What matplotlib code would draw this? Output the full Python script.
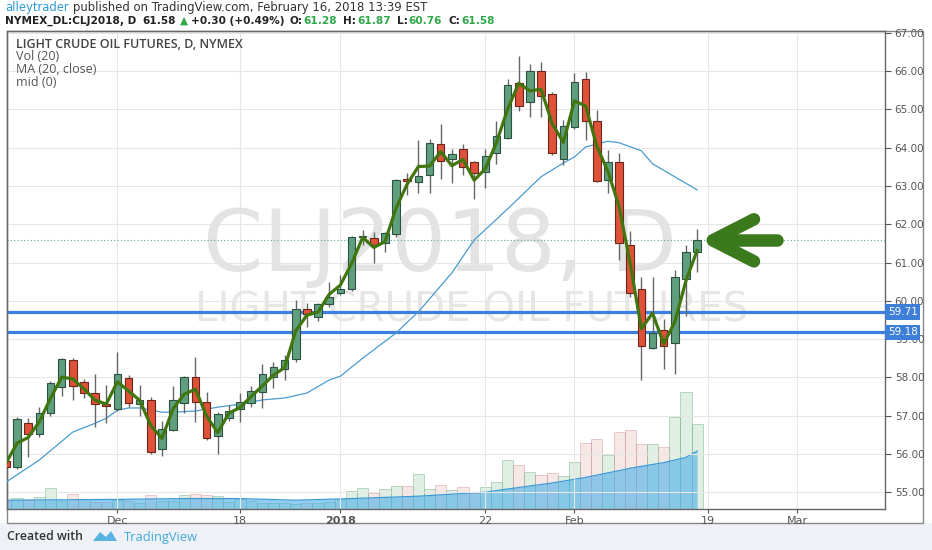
import matplotlib
matplotlib.use("Agg")
import matplotlib.pyplot as plt
import numpy as np
from matplotlib.patches import Rectangle, Polygon
import matplotlib.transforms as mtransforms

# ---------------- data ----------------
dates = ["Nov16", "Nov17", "Nov20", "Nov21", "Nov22", "Nov24", "Nov27", "Nov28", "Nov29", "Nov30",
         "Dec1", "Dec4", "Dec5", "Dec6", "Dec7", "Dec8", "Dec11", "Dec12", "Dec13", "Dec14",
         "Dec15", "Dec18", "Dec19", "Dec20", "Dec21", "Dec22", "Dec26", "Dec27", "Dec28", "Dec29",
         "Jan2", "Jan3", "Jan4", "Jan5", "Jan8", "Jan9", "Jan10", "Jan11", "Jan12", "Jan16",
         "Jan17", "Jan18", "Jan19", "Jan22", "Jan23", "Jan24", "Jan25", "Jan26", "Jan29", "Jan30",
         "Jan31", "Feb1", "Feb2", "Feb5", "Feb6", "Feb7", "Feb8", "Feb9", "Feb12", "Feb13",
         "Feb14", "Feb15", "Feb16"]
opens = [55.81, 55.66, 56.81, 56.51, 57.06, 57.74, 58.46, 57.87, 57.58, 57.30,
         57.17, 57.99, 57.30, 57.42, 56.14, 56.62, 57.33, 58.01, 57.36, 56.47,
         56.95, 57.16, 57.32, 57.62, 58.01, 58.21, 58.48, 59.78, 59.57, 59.91,
         60.21, 60.31, 61.66, 61.63, 61.50, 61.74, 63.17, 63.11, 63.29, 64.09,
         63.70, 63.97, 63.62, 63.37, 63.85, 64.25, 65.68, 65.19, 66.01, 65.40,
         63.71, 64.54, 65.80, 64.70, 63.16, 63.63, 61.46, 60.30, 58.77, 59.24,
         58.89, 60.56, 61.28]
highs = [55.95, 56.96, 56.95, 57.23, 57.90, 58.50, 58.50, 57.95, 58.10, 57.80,
         58.65, 58.06, 57.80, 57.49, 56.86, 57.77, 58.04, 58.54, 57.62, 57.10,
         57.27, 57.58, 57.77, 58.36, 58.41, 58.58, 60.02, 59.93, 59.93, 60.50,
         60.67, 61.69, 61.85, 61.81, 61.81, 63.18, 63.35, 64.21, 64.22, 64.62,
         63.97, 64.10, 63.65, 63.96, 64.70, 65.79, 66.40, 66.18, 66.25, 65.45,
         64.73, 65.95, 65.98, 64.99, 63.94, 63.86, 61.83, 60.61, 60.61, 59.52,
         60.80, 61.46, 61.87]
lows = [55.55, 55.60, 55.91, 56.45, 57.00, 57.51, 57.42, 57.45, 56.71, 56.80,
        57.12, 57.23, 57.00, 55.99, 55.95, 56.60, 57.08, 56.84, 56.36, 56.01,
        56.86, 56.84, 57.23, 57.19, 57.71, 57.93, 58.41, 59.32, 59.48, 59.84,
        60.15, 60.25, 61.46, 60.98, 61.28, 61.67, 62.76, 62.81, 62.82, 63.18,
        63.09, 63.29, 62.65, 62.94, 63.57, 64.22, 64.97, 64.79, 64.81, 63.81,
        63.55, 64.50, 64.20, 63.10, 62.82, 61.07, 60.11, 57.93, 58.75, 58.23,
        58.10, 59.60, 60.76]
closes = [55.65, 56.91, 56.53, 57.08, 57.84, 58.48, 57.78, 57.60, 57.30, 57.25,
          58.10, 57.32, 57.41, 56.04, 56.64, 57.42, 58.01, 57.36, 56.42, 57.04,
          57.12, 57.36, 57.64, 58.08, 58.28, 58.45, 59.78, 59.65, 59.91, 60.09,
          60.31, 61.66, 61.70, 61.46, 61.76, 63.16, 63.13, 63.27, 64.13, 63.65,
          63.83, 63.50, 63.33, 63.79, 64.31, 65.64, 65.10, 66.01, 65.36, 63.85,
          64.57, 65.72, 64.70, 63.13, 63.63, 61.50, 60.21, 58.82, 59.15, 58.82,
          60.61, 61.28, 61.58]
volumes = [20, 28, 22, 30, 52, 20, 38, 25, 18, 18,
           22, 20, 15, 35, 20, 20, 35, 38, 35, 32,
           18, 25, 20, 15, 15, 15, 12, 15, 15, 18,
           25, 45, 52, 40, 50, 58, 58, 88, 50, 60,
           48, 55, 40, 55, 68, 122, 110, 92, 85, 90,
           82, 118, 165, 175, 135, 192, 198, 162, 162, 155,
           230, 292, 212]  # thousands of contracts

# MA(20, close) at these bar indices
ma_idx = [0, 3, 6, 8, 9, 10, 11, 12, 14, 15, 17, 19, 21, 23, 25, 27, 29, 30, 32, 35, 36, 37,
          40, 42, 45, 48, 50, 51, 52, 54, 55, 57, 58, 60, 62]
ma_val = [55.26, 55.84, 56.57, 56.80, 56.93, 57.14, 57.20, 57.20, 57.09, 57.09, 57.12, 57.22,
          57.30, 57.41, 57.46, 57.59, 57.93, 58.03, 58.50, 59.16, 59.44, 59.71,
          60.73, 61.59, 62.40, 63.24, 63.60, 63.76, 64.02, 64.17, 64.13, 63.92, 63.58, 63.24, 62.90]

# Volume MA(20)
vma_idx = [0, 10, 16, 21, 26, 31, 37, 43, 45, 49, 52, 55, 56, 59, 61, 62]
vma_val = [22, 24, 26, 26, 22, 26, 32, 42, 50, 65, 79, 96, 102, 116, 129, 145]

levels = [59.71, 59.18]
xtick_idx = [10, 21, 30, 43, 51, 63, 71]
xtick_labels = ["Dec", "18", "2018", "22", "Feb", "19", "Mar"]
ytick_vals = list(range(55, 68))

# ---------------- figure ----------------
W, H = 932, 550
fig = plt.figure(figsize=(W / 100, H / 100), dpi=100)
fig.patch.set_facecolor("white")

# footer band
fig.add_artist(Rectangle((0, 0), 1, 27 / H, transform=fig.transFigure,
                         fc="#eef1f5", ec="none", zorder=0))

ax = fig.add_axes([7 / W, 41 / H, 878 / W, 478 / H])
ax2 = ax.twinx()
ax.set_zorder(ax2.get_zorder() + 1)
ax.patch.set_visible(False)
ax2.patch.set_facecolor("white")

x = np.arange(len(closes))
o = np.array(opens); c = np.array(closes); h = np.array(highs); l = np.array(lows)
up = c >= o

# volume
vcol = [(0.45, 0.72, 0.52, 0.22) if u else (0.85, 0.55, 0.55, 0.20) for u in up]
vedge = [(0.45, 0.70, 0.50, 0.55) if u else (0.80, 0.55, 0.55, 0.50) for u in up]
ax2.bar(x, volumes, width=1.0, color=vcol, edgecolor=vedge, linewidth=0.6, zorder=1)
ax2.fill_between(vma_idx, 0, vma_val, color="#4fb0e6", alpha=0.62, lw=0, zorder=2)
ax2.plot(vma_idx, vma_val, color="#3b9ad8", lw=0.9, zorder=3)
ax2.set_ylim(0, 1195)
ax2.yaxis.set_visible(False)
for s in ax2.spines.values():
    s.set_visible(False)

# grid
ax.set_xticks(xtick_idx)
ax.set_yticks(ytick_vals)
ax.grid(True, color="#e6e6e6", lw=0.8, zorder=0)
ax.set_axisbelow(True)

# watermark
ax.text((440 - 7) / 878, (509 - 248) / 478, "CLJ2018, D", transform=ax.transAxes,
        ha="center", va="center", fontsize=62, color="#e3e3e3", family="DejaVu Sans", zorder=1)
ax.text((472 - 7) / 878, (509 - 311) / 478, "LIGHT CRUDE OIL FUTURES", transform=ax.transAxes,
        ha="center", va="center", fontsize=29, color="#e6e6e6", family="DejaVu Sans", zorder=1)

# levels
for lv in levels:
    ax.axhline(lv, color="#3d7fe0", lw=2.3, zorder=2)
ax.axhline(closes[-1], color="#5aa5a5", lw=0.8, ls=(0, (1, 2)), zorder=2)

# MA line
ax.plot(ma_idx, ma_val, color="#4a9bd0", lw=0.9, zorder=2.6)

# candles
ax.vlines(x, l, h, color="#666666", lw=1.0, zorder=2.8)
body_lo = np.minimum(o, c)
body_h = np.maximum(np.abs(c - o), 0.035)
ax.bar(x, body_h, bottom=body_lo, width=0.68,
       color=["#5f9f7e" if u else "#dd5238" for u in up],
       edgecolor=["#2b5240" if u else "#6e2418" for u in up], linewidth=0.8, zorder=3)

# mid (hl2) line
ax.plot(x, (h + l) / 2, color="#41750f", lw=2.3, zorder=4, solid_joinstyle="round")

# arrow pointing at the last close
tip_x = x[-1] + 1.4
tip_y = closes[-1]
ax.plot([tip_x + 3.7, tip_x, tip_x + 3.7], [tip_y + 0.55, tip_y, tip_y - 0.55],
        color="#3a7a1c", lw=9, solid_capstyle="round", solid_joinstyle="round", zorder=5)
ax.plot([tip_x, tip_x + 5.8], [tip_y, tip_y], color="#3a7a1c", lw=9,
        solid_capstyle="round", zorder=5)

# limits
ax.set_xlim(0.1, 78.85)
ax.set_ylim(54.56, 67.05)

# axes styling
ax.yaxis.tick_right()
ax.set_yticklabels([f"{v:.2f}" for v in ytick_vals])
ax.set_xticklabels(xtick_labels)
for t in ax.get_xticklabels():
    if t.get_text() == "2018":
        t.set_fontweight("bold")
ax.tick_params(axis="y", which="both", right=True, left=False, labelsize=7.5,
               colors="#555555", length=4, pad=3, width=0.8)
ax.tick_params(axis="x", labelsize=8, colors="#555555", length=3, pad=2, width=0.8)
for t in ax.get_yticklabels() + ax.get_xticklabels():
    t.set_family("DejaVu Sans")
for s in ax.spines.values():
    s.set_color("#666666")
    s.set_linewidth(1.0)

# price labels for levels
blend = mtransforms.blended_transform_factory(ax.transAxes, ax.transData)
for lv in levels:
    ax.text(1.0 + 3 / 878, lv, f"{lv:.2f}", transform=blend, ha="left", va="center",
            fontsize=7.5, color="white", family="DejaVu Sans", clip_on=False, zorder=10,
            bbox=dict(boxstyle="square,pad=0.25", fc="#3d7fd8", ec="none"))

# outer frame
fig.add_artist(Rectangle((7 / W, 27 / H), (923 - 7) / W, (523 - 31) / H,
                         transform=fig.transFigure, fill=False, ec="#888888", lw=1.0, zorder=1))

# in-chart legend
leg_lines = [("LIGHT CRUDE OIL FUTURES, D, NYMEX", "semibold", "#444444"),
             ("Vol (20)", "normal", "#555555"),
             ("MA (20, close)", "normal", "#555555"),
             ("mid (0)", "normal", "#555555")]
for k, (s, wgt, col) in enumerate(leg_lines):
    fig.text(16 / W, 1 - (44 + 12.8 * k) / H, s, fontsize=9, fontweight=wgt, color=col,
             family=["Open Sans", "DejaVu Sans"], va="center", ha="left")

# header text
renderer = fig.canvas.get_renderer()


def seq_text(x0, y0, parts, size):
    xx = x0
    for s, col, wgt, gap in parts:
        t = fig.text(xx / W, 1 - y0 / H, s, fontsize=size, color=col, fontweight=wgt,
                     family="DejaVu Sans", va="center", ha="left")
        bb = t.get_window_extent(renderer)
        xx = bb.x1 + gap


seq_text(5, 8, [("alleytrader", "#2f9ad6", "normal", 4),
                ("published on TradingView.com, February 16, 2018 13:39 EST", "#333333", "normal", 0)],
         8.4)

chg = closes[-1] - closes[-2]
pct = chg / closes[-2] * 100
grn = "#2fa84a"
dk = "#222222"
seq_text(5, 20.5, [("NYMEX_DL:CLJ2018, D", dk, "bold", 6),
                   (f"{closes[-1]:.2f}", dk, "bold", 4),
                   ("\u25b2", grn, "normal", 3),
                   (f"+{chg:.2f} (+{pct:.2f}%)", dk, "bold", 5),
                   ("O:", dk, "bold", 1), (f"{opens[-1]:.2f}", grn, "bold", 6),
                   ("H:", dk, "bold", 1), (f"{highs[-1]:.2f}", grn, "bold", 6),
                   ("L:", dk, "bold", 1), (f"{lows[-1]:.2f}", grn, "bold", 6),
                   ("C:", dk, "bold", 1), (f"{closes[-1]:.2f}", grn, "bold", 0)],
         7.6)

# footer
fig.text(7 / W, 1 - 537 / H, "Created with", fontsize=8.8, fontweight="semibold",
         color="#333333", family=["Open Sans", "DejaVu Sans"], va="center")
logo = Polygon([(93 / W, 1 - 541 / H), (100 / W, 1 - 532 / H), (106 / W, 1 - 537 / H),
                (111 / W, 1 - 531 / H), (117 / W, 1 - 541 / H)],
               closed=True, transform=fig.transFigure, fc="#5ab4e2", ec="none")
fig.add_artist(logo)
fig.text(124 / W, 1 - 537 / H, "TradingView", fontsize=9.3, color="#45a8de",
         family=["Open Sans", "DejaVu Sans"], va="center")

fig.savefig("out.png", dpi=100, facecolor=fig.get_facecolor())
